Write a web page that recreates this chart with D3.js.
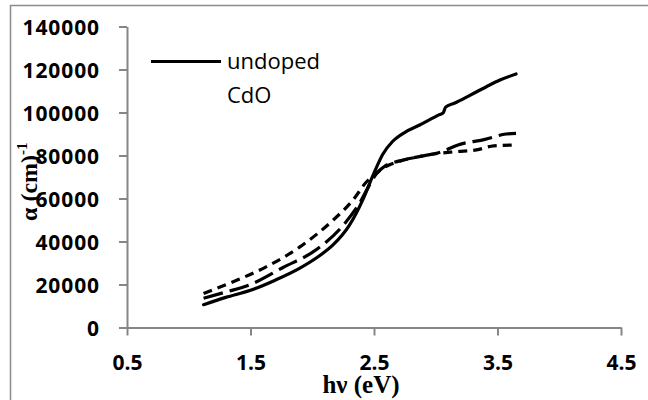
<!DOCTYPE html>
<html>
<head>
<meta charset="utf-8">
<script src="https://cdn.jsdelivr.net/npm/d3@7"></script>
<style>
  html, body { margin: 0; padding: 0; background: #fff; }
  svg { display: block; }
</style>
</head>
<body>
<svg id="chart" width="648" height="400"></svg>
<script>
// ---- data ----
const xTicks = [0.5, 1.5, 2.5, 3.5, 4.5];
const yTicks = [0, 20000, 40000, 60000, 80000, 100000, 120000, 140000];

const undopedX = [1.12, 1.3, 1.5, 1.7, 1.9, 2.05, 2.17, 2.3, 2.41, 2.49, 2.57, 2.65, 2.75, 2.87, 3.03, 3.06, 3.08, 3.15, 3.28, 3.41, 3.52, 3.65];
const undopedY = [10600, 14000, 17300, 22000, 27600, 33000, 38500, 47500, 59500, 70500, 80500, 86500, 90800, 94200, 99000, 99800, 102500, 104300, 108100, 112000, 115100, 117900];

const longDashX = [1.12, 1.3, 1.5, 1.76, 2.04, 2.25, 2.39, 2.47, 2.52, 2.6, 2.7, 2.87, 3.05, 3.18, 3.4, 3.57, 3.65];
const longDashY = [13600, 16500, 20000, 27800, 36500, 47500, 58500, 67000, 71500, 75500, 77400, 79500, 81800, 84900, 87500, 90000, 90300];

const shortDashX = [1.12, 1.36, 1.63, 1.9, 2.17, 2.33, 2.44, 2.5, 2.6, 2.7, 2.8, 2.98, 3.17, 3.33, 3.47, 3.65];
const shortDashY = [15800, 21300, 28300, 37500, 50000, 59300, 67800, 71000, 75000, 77200, 78700, 80700, 81800, 82600, 84500, 84900];

const legendLines = ["undoped", "CdO"];

// ---- drawing ----
const svg = d3.select("#chart");
const axisColor = "#868686";

// outer border (extends past the window on right/bottom)
svg.append("rect")
  .attr("x", 10.5).attr("y", 5.5)
  .attr("width", 700).attr("height", 500)
  .attr("fill", "none").attr("stroke", "#8c8c8c").attr("stroke-width", 1.5);

const x = d3.scaleLinear().domain([0.5, 4.5]).range([127, 621]);
const y = d3.scaleLinear().domain([0, 140000]).range([327.5, 26.5]);

// y axis
const yAxis = svg.append("g")
  .attr("transform", `translate(${x(0.5)},0)`)
  .call(d3.axisLeft(y).tickValues(yTicks).tickSize(8).tickSizeOuter(0).tickFormat(d3.format("d")));
yAxis.select(".domain").attr("stroke", axisColor).attr("stroke-width", 2);
yAxis.selectAll(".tick line").attr("stroke", axisColor).attr("stroke-width", 2);
yAxis.selectAll(".tick text")
  .attr("x", -27).attr("dy", null)
  .attr("dominant-baseline", "central")
  .attr("font-family", "'Open Sans', sans-serif")
  .attr("font-weight", "bold").attr("font-size", 21)
  .attr("letter-spacing", 0.9)
  .attr("fill", "#000");

// x axis
const xAxis = svg.append("g")
  .attr("transform", `translate(0,${y(0)})`)
  .call(d3.axisBottom(x).tickValues(xTicks).tickSize(8).tickSizeOuter(0).tickFormat(d3.format(".1f")));
xAxis.select(".domain").attr("stroke", axisColor).attr("stroke-width", 2);
xAxis.selectAll(".tick line").attr("stroke", axisColor).attr("stroke-width", 2);
xAxis.selectAll(".tick text")
  .attr("y", 42).attr("dy", null)
  .attr("font-family", "'Open Sans', sans-serif")
  .attr("font-weight", "bold").attr("font-size", 21)
  .attr("fill", "#000");

// series
const line = d3.line().x(d => x(d[0])).y(d => y(d[1])).curve(d3.curveMonotoneX);
function drawSeries(xs, ys, dash) {
  const pts = xs.map((v, i) => [v, ys[i]]);
  svg.append("path")
    .datum(pts)
    .attr("d", line)
    .attr("fill", "none")
    .attr("stroke", "#000")
    .attr("stroke-width", 3.2)
    .attr("stroke-linecap", dash ? "butt" : "round")
    .attr("stroke-linejoin", "round")
    .attr("stroke-dasharray", dash || null);
}
drawSeries(shortDashX, shortDashY, "9,6");
drawSeries(longDashX, longDashY, "20,7");
drawSeries(undopedX, undopedY, null);

// legend
svg.append("line")
  .attr("x1", 151).attr("x2", 221).attr("y1", 61.5).attr("y2", 61.5)
  .attr("stroke", "#000").attr("stroke-width", 3.2);
svg.append("text")
  .attr("font-family", "'Open Sans', sans-serif")
  .attr("font-size", 22)
  .attr("fill", "#000")
  .selectAll("tspan").data(legendLines).join("tspan")
  .attr("x", 227)
  .attr("y", (d, i) => 69 + i * 34)
  .text(d => d);

// axis titles
svg.append("text")
  .attr("x", 361).attr("y", 393)
  .attr("text-anchor", "middle")
  .attr("font-family", "'Liberation Serif', 'Times New Roman', serif")
  .attr("font-weight", "bold").attr("font-size", 25)
  .attr("fill", "#000")
  .text("hν (eV)");

const yTitle = svg.append("text")
  .attr("transform", "translate(37,221) rotate(-90)")
  .attr("font-family", "'Liberation Serif', 'Times New Roman', serif")
  .attr("font-weight", "bold").attr("font-size", 24)
  .attr("fill", "#000");
yTitle.append("tspan").text("α (cm)");
yTitle.append("tspan").attr("dy", -10).attr("font-size", 15).text("-1");
</script>
</body>
</html>
